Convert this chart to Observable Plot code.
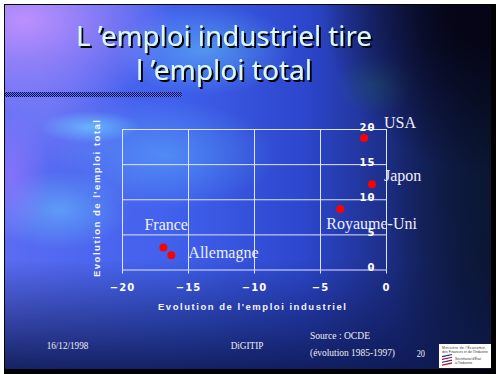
<!DOCTYPE html>
<html><head><meta charset="utf-8">
<script src="https://cdn.jsdelivr.net/npm/d3@7"></script>
<script src="https://cdn.jsdelivr.net/npm/@observablehq/plot@0.6"></script>
<style>
html,body{margin:0;padding:0;background:#fff;}
#wrap{position:relative;width:496px;height:374px;overflow:hidden;background:#fff;}
#shadow{position:absolute;left:4px;top:4px;width:492px;height:370px;background:#000;}
#slide{position:absolute;left:5px;top:5px;width:486px;height:364px;
background:
 radial-gradient(ellipse 170px 170px at 100% 0%, rgba(5,5,22,0.97) 25%, rgba(5,5,22,0) 100%),
 radial-gradient(ellipse 110px 240px at 100% 50%, rgba(10,24,50,0.85), rgba(10,24,50,0)),
 radial-gradient(ellipse 40px 30px at 370px 80px, rgba(40,100,130,0.5), rgba(40,100,130,0)),
 linear-gradient(to bottom, rgba(12,22,75,0) 70%, rgba(14,26,85,0.9) 100%),
 radial-gradient(ellipse 150px 95px at 20px 15px, rgba(205,150,255,0.85), rgba(205,150,255,0)),
 radial-gradient(ellipse 40px 70px at 5px 170px, rgba(160,120,255,0.6), rgba(160,120,255,0)),
 radial-gradient(ellipse 90px 45px at 200px 45px, rgba(110,220,255,0.45), rgba(110,220,255,0)),
 radial-gradient(ellipse 50px 16px at 85px 122px, rgba(110,225,255,0.6), rgba(110,225,255,0)),
 radial-gradient(ellipse 70px 40px at 55px 205px, rgba(110,215,255,0.45), rgba(110,215,255,0)),
 radial-gradient(ellipse 110px 55px at 160px 150px, rgba(100,190,255,0.45), rgba(100,190,255,0)),
 radial-gradient(ellipse 90px 60px at 40px 110px, rgba(150,140,255,0.4), rgba(150,140,255,0)),
 linear-gradient(to right, #5a6cf2 0%, #4060ec 35%, #2c46cc 62%, #1a2a7a 82%, #0c1236 100%);}
#bar{position:absolute;left:5px;top:92px;width:177px;height:5px;
background:repeating-conic-gradient(#0c0c48 0% 25%, #5a78f8 0% 50%) 0 0/2px 2px;}
#chart svg,#over{position:absolute;left:0;top:0;}
</style></head><body>
<div id="wrap">
 <div id="shadow"></div>
 <div id="slide"></div>
 <div id="bar"></div>
 <div id="chart"></div>
 <svg id="over" width="496" height="374">
  <defs><filter id="ds" x="-5%" y="-20%" width="110%" height="140%"><feDropShadow dx="2" dy="2" stdDeviation="0" flood-color="#000" flood-opacity="1"/></filter></defs>
 </svg>
</div>
<script>
// ---- data ----
const countries = ["USA", "Japon", "Royaume-Uni", "France", "Allemagne"];
const emploiIndustriel = [-1.7, -1.1, -3.5, -16.9, -16.3];
const emploiTotal = [18.8, 12.2, 8.7, 3.2, 2.1];
const xTicks = [-20, -15, -10, -5, 0];
const yTicks = [0, 5, 10, 15, 20];
const titleLines = ["L \u2019emploi industriel tire", "l \u2019emploi total"];
const xTitle = "Evolution de l'emploi industriel";
const yTitle = "Evolution de l'emploi total";
const footer = ["16/12/1998", "DiGITIP", "Source : OCDE", "(\u00e9volution 1985-1997)", "20"];

// ---- styles ----
const grid = "#dfe6ff";
const labelOffsets = {
  "USA": {dx: 20, dy: -10},
  "Japon": {dx: 12, dy: -3},
  "Royaume-Uni": {dx: -14, dy: 20},
  "France": {dx: -19, dy: -18},
  "Allemagne": {dx: 17, dy: 3}
};

const data = countries.map((c, i) => ({pays: c, x: emploiIndustriel[i], y: emploiTotal[i]}));

const chart = Plot.plot({
  width: 496, height: 374,
  marginLeft: 122, marginRight: 110, marginTop: 129, marginBottom: 104.5,
  style: {background: "transparent", color: "#fff", fontFamily: "DejaVu Sans", fontSize: "10px", fontWeight: "bold", overflow: "visible"},
  x: {domain: [-20, 0]},
  y: {domain: [0, 20]},
  marks: [
    Plot.gridX(xTicks, {stroke: grid, strokeOpacity: 1}),
    Plot.gridY(yTicks, {stroke: grid, strokeOpacity: 1}),
    Plot.axisX(xTicks, {tickSize: 4, tickPadding: 10, stroke: grid, fill: "#fff", label: null}),
    Plot.axisY(yTicks, {anchor: "right", tickSize: 3, tickPadding: 3, textAnchor: "end", dx: -17, dy: -2, stroke: grid, fill: "#fff", label: null}),
    Plot.dot(data, {x: "x", y: "y", r: 4, fill: "#ff0000"}),
    ...countries.map(c => Plot.text(data.filter(d => d.pays === c), {
      x: "x", y: "y", text: "pays", dx: labelOffsets[c].dx, dy: labelOffsets[c].dy,
      textAnchor: "start", lineAnchor: "bottom", fill: "#eef0ff",
      fontFamily: "Liberation Serif", fontSize: 16, fontWeight: "normal"
    }))
  ]
});
d3.select(chart).selectAll('g[aria-label="x-axis tick label"], g[aria-label="y-axis tick label"]').attr("letter-spacing", 1);
document.getElementById("chart").appendChild(chart);

// ---- overlay texts ----
const over = d3.select("#over");
const tl = [{t: titleLines[0], x: 76, y: 46, w: 296}, {t: titleLines[1], x: 136, y: 79.5, w: 176}];
over.selectAll(null).data(tl).join("text")
  .attr("x", d => d.x).attr("y", d => d.y)
  .attr("textLength", d => d.w).attr("lengthAdjust", "spacingAndGlyphs")
  .attr("font-family", "Noto Sans").attr("font-size", 28).attr("fill", "#d8f9ff")
  .attr("filter", "url(#ds)")
  .text(d => d.t);
over.append("text").attr("x", 158).attr("y", 310).attr("textLength", 188).attr("lengthAdjust", "spacing")
  .attr("font-family", "Liberation Sans").attr("font-weight", "bold").attr("font-size", 9.5).attr("fill", "#f2f4ff").text(xTitle);
over.append("text").attr("transform", "translate(100,277) rotate(-90)").attr("textLength", 157).attr("lengthAdjust", "spacing")
  .attr("font-family", "Liberation Sans").attr("font-weight", "bold").attr("font-size", 9.5).attr("fill", "#f2f4ff").text(yTitle);

const fpos = [{x: 46.7, y: 349, w: 41.6}, {x: 230.7, y: 349, w: 32.6}, {x: 310, y: 338.5, w: 60}, {x: 310, y: 356, w: 85}, {x: 416.7, y: 356.5, w: 8.3}];
over.selectAll(null).data(footer).join("text")
  .attr("x", (d, i) => fpos[i].x).attr("y", (d, i) => fpos[i].y)
  .attr("textLength", (d, i) => fpos[i].w).attr("lengthAdjust", "spacingAndGlyphs")
  .attr("font-family", "Liberation Serif").attr("font-size", 10).attr("fill", "#eeeeee").text(d => d);

// logo
const logo = over.append("g");
logo.append("rect").attr("x", 439).attr("y", 344).attr("width", 52).attr("height", 24).attr("fill", "#fff");
logo.append("text").attr("x", 442).attr("y", 348.5).attr("font-size", 3.4).attr("font-family", "Liberation Sans").attr("fill", "#333").attr("textLength", 44).text("Minist\u00e8re de l'\u00c9conomie,");
logo.append("text").attr("x", 442).attr("y", 352.5).attr("font-size", 3.4).attr("font-family", "Liberation Sans").attr("fill", "#333").attr("textLength", 46).text("des Finances et de l'Industrie");
const flagC = ["#1a3a9a", "#fff", "#d01020", "#fff", "#1a3a9a", "#fff", "#d01020"];
flagC.forEach((c, i) => logo.append("rect").attr("x", 442).attr("y", 356 + i * 1.4).attr("width", 10).attr("height", 1.4).attr("fill", c).attr("transform", "skewY(-12) translate(0,94)"));
logo.append("text").attr("x", 455).attr("y", 360).attr("font-size", 3.4).attr("font-family", "Liberation Sans").attr("fill", "#333").text("Secr\u00e9tariat d'\u00c9tat");
logo.append("text").attr("x", 455).attr("y", 364).attr("font-size", 3.4).attr("font-family", "Liberation Sans").attr("fill", "#333").text("\u00e0 l'Industrie");
</script>
</body></html>
